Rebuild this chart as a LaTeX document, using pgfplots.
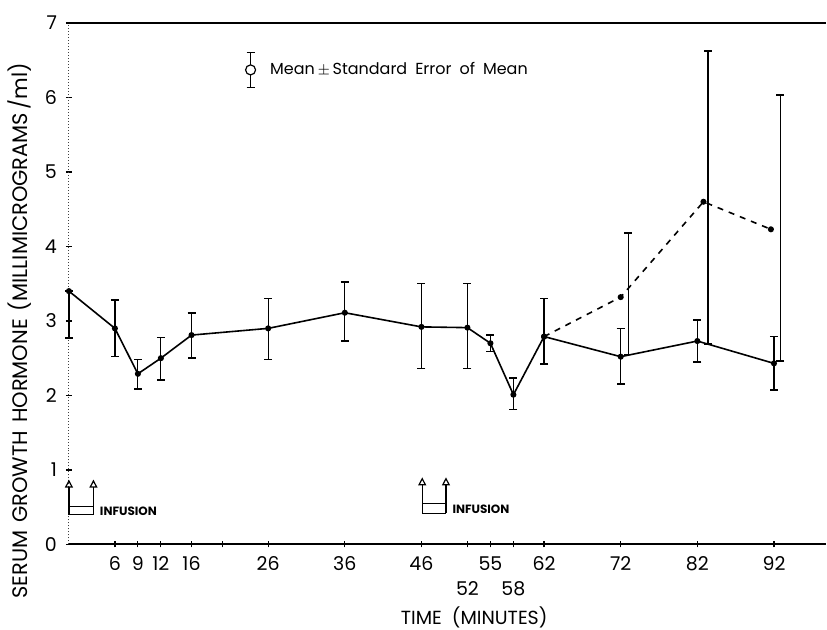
\documentclass[border=0pt]{standalone}
\usepackage{fontspec}
\setmainfont{Poppins}
\usepackage{pgfplots}
\usepackage{pgfplotstable}
\pgfplotsset{compat=1.18}
\usetikzlibrary{arrows.meta}

% mean and standard error, solid curve
\pgfplotstableread{
t    y     ep    em
0    3.40  0.00  0.63
6    2.90  0.38  0.38
9    2.29  0.19  0.20
12   2.50  0.28  0.29
16   2.81  0.30  0.31
26   2.90  0.40  0.42
36   3.11  0.41  0.38
46   2.92  0.58  0.56
52   2.91  0.59  0.55
55   2.70  0.11  0.11
58   2.01  0.22  0.20
62   2.79  0.51  0.37
72   2.52  0.38  0.37
82   2.73  0.28  0.28
92   2.43  0.36  0.36
}\solid

% dashed curve
\pgfplotstableread{
t     y
62    2.79
72    3.32
82.8  4.60
91.6  4.23
}\dashed

% its error bars, drawn just right of the points
\pgfplotstableread{
t     y     ep    em
73.0  3.32  0.86  0.77
83.4  4.60  2.02  1.91
92.8  4.23  1.80  1.77
}\dashederr

\begin{document}
\begin{tikzpicture}
\begin{axis}[
  scale only axis,
  width=379pt, height=261pt,
  xmin=0, xmax=98.8, ymin=0, ymax=7,
  clip=false,
  axis x line=bottom, axis y line=left,
  axis line style={-},
  y axis line style={densely dotted, line width=0.5pt, black!75},
  x axis line style={line width=0.9pt},
  xtick={6,9,12,16,20,26,36,46,55,62,72,82,92},
  xticklabels={6,9,12,16,,26,36,46,55,62,72,82,92},
  extra x ticks={52,58},
  extra x tick labels={52,58},
  extra x tick style={xticklabel style={yshift=-12.5pt}},
  ytick={0,1,...,7},
  tick align=center,
  major tick length=3pt,
  tick style={line width=0.6pt, black},
  ticklabel style={font=\fontsize{9.5}{11}\selectfont},
  /pgf/number format/assume math mode=true,
  xticklabel style={yshift=-1pt},
  yticklabel style={xshift=-1pt},
  legend style={draw=none, fill=none, at={(rel axis cs:0.232,0.91)}, anchor=west,
    font=\fontsize{8}{10}\selectfont, inner sep=0pt},
  legend cell align=left,
  error bars/error bar style={line width=0.6pt, solid, draw=black},
  error bars/error mark options={rotate=90, mark size=2pt, line width=0.8pt, solid, draw=black},
]
\addlegendimage{legend image code/.code={
  \draw[line width=0.6pt] (0pt,-8.75pt) -- (0pt,8.75pt);
  \draw[line width=0.8pt] (-2pt,-8.75pt) -- (2pt,-8.75pt) (-2pt,8.75pt) -- (2pt,8.75pt);
  \draw[line width=0.6pt, fill=white] (0,0) circle (2.5pt);
}}
\addlegendentry{\hspace*{5pt}Mean\,{\fontsize{7}{8}\selectfont$\pm$}\,Standard\enspace Error\enspace of\enspace Mean}

\addplot[forget plot, black, line width=0.8pt, mark=*, mark size=1.1pt,
  error bars/.cd, y dir=both, y explicit]
  table[x=t, y=y, y error plus=ep, y error minus=em] {\solid};

\addplot[forget plot, black, line width=0.8pt, dashed, mark=*, mark size=1.1pt,
  mark options={solid}]
  table[x=t, y=y] {\dashed};

\addplot[forget plot, draw=none, mark=none,
  error bars/.cd, y dir=both, y explicit]
  table[x=t, y=y, y error plus=ep, y error minus=em] {\dashederr};

% infusion markers
\draw[line width=0.6pt, -{Triangle[open, length=4pt, width=4pt]}] (axis cs:0,0.40) -- (axis cs:0,0.87);
\draw[line width=0.6pt, -{Triangle[open, length=4pt, width=4pt]}] (axis cs:3.2,0.40) -- (axis cs:3.2,0.87);
\draw[line width=0.6pt] (axis cs:0,0.51) -- (axis cs:3.2,0.51) (axis cs:0,0.40) -- (axis cs:3.2,0.40);
\node[anchor=west, inner sep=0pt, font=\fontsize{6}{7}\selectfont\bfseries] at (axis cs:4.0,0.44) {INFUSION};

\draw[line width=0.6pt, -{Triangle[open, length=4pt, width=4pt]}] (axis cs:46.1,0.42) -- (axis cs:46.1,0.90);
\draw[line width=0.6pt, -{Triangle[open, length=4pt, width=4pt]}] (axis cs:49.2,0.42) -- (axis cs:49.2,0.90);
\draw[line width=0.6pt] (axis cs:46.1,0.55) -- (axis cs:49.2,0.55) (axis cs:46.1,0.42) -- (axis cs:49.2,0.42);
\node[anchor=west, inner sep=0pt, font=\fontsize{6}{7}\selectfont\bfseries] at (axis cs:50.0,0.47) {INFUSION};

% axis titles
\node[anchor=west, inner sep=0pt, font=\fontsize{9.5}{11}\selectfont]
  at ([yshift=-36.5pt]rel axis cs:0.438,0) {TIME\hspace{5pt}(MINUTES)};
\node[anchor=west, inner sep=0pt, rotate=90, font=\fontsize{10.5}{12}\selectfont]
  at ([xshift=-24.5pt]rel axis cs:0,-0.105) {SERUM\hspace{4pt}GROWTH\hspace{4pt}HORMONE\hspace{4pt}(MILLIMICROGRAMS\,/ml)};

% top rule
\draw[line width=0.9pt] (rel axis cs:0,1) -- (rel axis cs:1,1);
% page frame
\path ([xshift=-34.5pt, yshift=-42.5pt]rel axis cs:0,0) rectangle ([yshift=11.5pt]rel axis cs:1,1);
\end{axis}
\end{tikzpicture}
\end{document}
